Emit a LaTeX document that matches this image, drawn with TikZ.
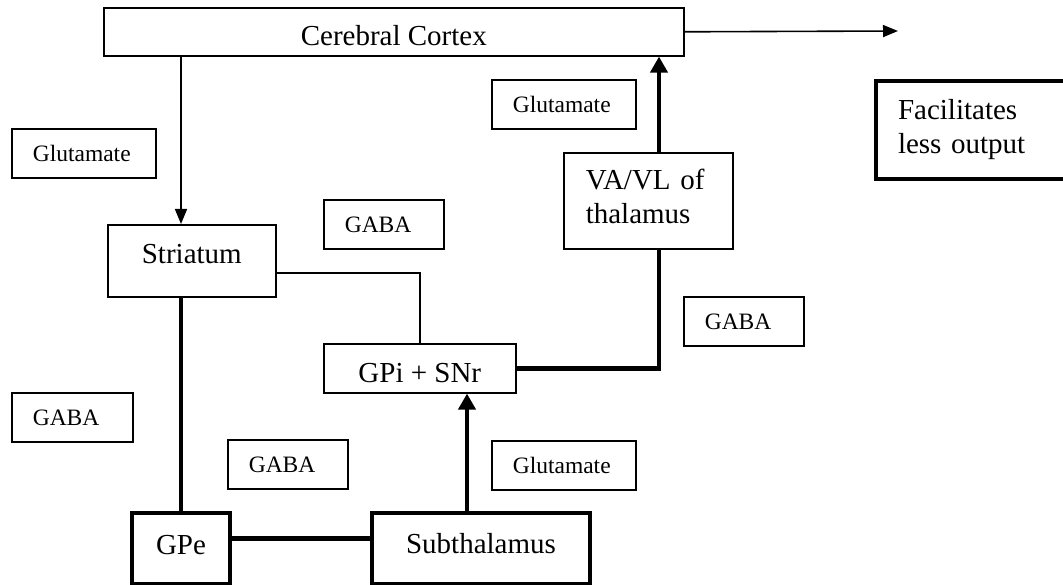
\documentclass[tikz,border=0pt]{standalone}
\usepackage{fontspec}
\setmainfont{Liberation Serif}
\usetikzlibrary{arrows.meta}

\tikzset{
  cell/.style={draw, line width=1.6pt, inner sep=0pt, anchor=north west,
    font=\fontsize{29}{34}\selectfont},
  boldcell/.style={cell, line width=4pt},
  tag/.style={draw, line width=1.6pt, inner ysep=0pt, inner xsep=21pt, anchor=north west,
    align=left, text height=33pt, text depth=16pt, font=\fontsize{23.5}{28}\selectfont},
  link/.style={line width=1.6pt},
  strong/.style={line width=4.5pt},
  tip/.style={-{Triangle[length=15pt,width=12pt]}},
  bigtip/.style={-{Triangle[length=16pt,width=17pt]}}
}

\begin{document}
\begin{tikzpicture}[x=1pt, y=-1pt]
  \useasboundingbox (0,0) rectangle (1063,585);

  \node[cell, minimum width=580pt, text height=38pt, text depth=10pt] (cortex) at (103,7) {Cerebral Cortex};
  \node[cell, minimum width=168pt, text height=39pt, text depth=33pt] (striatum) at (107,224) {Striatum};
  \node[cell, minimum width=192pt, text height=39pt, text depth=10pt] (gpi) at (323,343) {GPi + SNr};
  \node[cell, inner xsep=22pt, text width=125pt, align=left, text height=37pt, text depth=59pt] (vavl) at (563,152) {VA/VL of\\thalamus};
  \node[boldcell, minimum width=98pt, text height=41pt, text depth=30pt] (gpe) at (130,511) {GPe};
  \node[boldcell, minimum width=218pt, text height=40pt, text depth=31pt] (subthal) at (370,511) {Subthalamus};
  \node[boldcell, inner xsep=22pt, text width=170pt, align=left, text height=39pt, text depth=59pt] (effect) at (874,79) {Facilitates\\less output};

  % transmitters
  \foreach \name/\x/\y/\w/\txt in {glu1/11/128/144/Glutamate, glu2/491/79/144/Glutamate,
      glu3/491/440/144/Glutamate, gaba1/323/199/120/GABA, gaba2/683/296/120/GABA,
      gaba3/11/392/121/GABA, gaba4/227/439/120/GABA}{
    \pgfmathsetmacro\tw{\w-42}
    \node[tag, text width=\tw pt] (\name) at (\x,\y) {\txt};
  }

  \coordinate (outflow) at (898,31);
  \coordinate (relay) at (659,368);
  \coordinate (stnout) at (467,511);

  \draw[link, tip] (cortex.east) -- (outflow);
  \draw[link, tip] (cortex.south -| gpe.north) -- (striatum.north -| gpe.north);
  \draw[strong] (striatum.south -| gpe.north) -- (gpe.north);
  \draw[link] ([yshift=-12pt]striatum.east) -| (gpi.north);
  \draw[strong] ([yshift=10pt]gpe.east) -- ([yshift=10pt]gpe.east -| subthal.west);
  \draw[strong, bigtip] (stnout) -- (stnout |- gpi.south);
  \draw[strong] (gpi.east) -| (relay |- vavl.south);
  \draw[strong, bigtip] (relay |- vavl.north) -- (relay |- cortex.south);
\end{tikzpicture}
\end{document}
